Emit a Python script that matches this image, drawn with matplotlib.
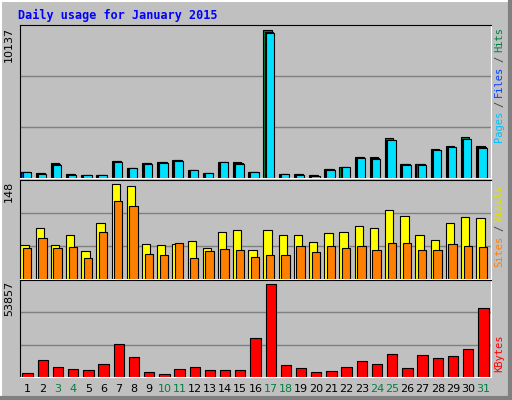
import matplotlib
matplotlib.use("Agg")
import matplotlib.pyplot as plt

days = list(range(1, 32))
weekend = [3, 4, 10, 11, 17, 18, 24, 25, 31]
hits = [437, 368, 1057, 299, 230, 230, 1196, 713, 1057, 1126, 1264, 575, 368, 1126, 1126, 437,
        10137, 299, 299, 230, 644, 782, 1471, 1471, 2712, 988, 988, 2023, 2230, 2782, 2230]
files = [420, 340, 990, 260, 220, 220, 1150, 680, 1010, 1080, 1220, 560, 360, 1110, 1000, 420,
         10000, 290, 270, 190, 600, 770, 1420, 1380, 2640, 930, 940, 1950, 2160, 2710, 2100]
pages = [400, 300, 900, 230, 220, 220, 1100, 660, 960, 1040, 1150, 560, 360, 1100, 950, 410,
         9950, 290, 230, 160, 570, 770, 1380, 1310, 2620, 900, 900, 1940, 2140, 2670, 2080]
visits = [53, 80, 53, 69, 43, 88, 148, 145, 55, 53, 55, 60, 48, 74, 76, 45,
          77, 68, 69, 58, 72, 74, 82, 79, 108, 98, 69, 61, 88, 97, 95]
sites = [48, 64, 48, 50, 32, 74, 122, 114, 39, 37, 56, 32, 43, 47, 45, 34,
         37, 37, 51, 42, 51, 48, 51, 45, 56, 56, 45, 45, 55, 51, 50]
kbytes = [2546, 9594, 6070, 4895, 4308, 7245, 18993, 11357, 3133, 1958, 4895, 6070, 4308, 4308,
          4308, 22517, 53857, 6657, 5482, 3133, 3720, 6070, 9007, 7245, 13119, 5482, 12532,
          10770, 11945, 16056, 40150]

W, H = 512, 400
fig = plt.figure(figsize=(W/100, H/100), dpi=100)
fig.patch.set_facecolor("#c0c0c0")
mono = "DejaVu Sans Mono"

fig.add_artist(plt.Line2D([0, 1], [1-0.5/H, 1-0.5/H], color="white", lw=1.5, transform=fig.transFigure))
fig.add_artist(plt.Line2D([0.5/W, 0.5/W], [0, 1], color="white", lw=1.5, transform=fig.transFigure))
fig.add_artist(plt.Line2D([0, 1], [2/H, 2/H], color="#808080", lw=3, transform=fig.transFigure))
fig.add_artist(plt.Line2D([1-2/W, 1-2/W], [0, 1], color="#808080", lw=3, transform=fig.transFigure))

fig.text(18/W, 1-15/H, "Daily usage for January 2015", color="#0000ff", fontsize=8.5,
         fontweight="bold", family=mono, va="center", ha="left")

x0, x1 = 20/W, 491/W
def mkax(top, bot):
    ax = fig.add_axes([x0, 1-bot/H, x1-x0, (bot-top)/H])
    ax.set_facecolor("#c0c0c0")
    ax.set_xlim(0.5, 31.5)
    for s in ax.spines.values():
        s.set_color("black")
    ax.spines["right"].set_color("white")
    ax.spines["bottom"].set_color("white")
    ax.set_xticks([]); ax.set_yticks([])
    for f in (1/3, 2/3):
        ax.plot([0, 1], [f, f], color="#808080", lw=1, transform=ax.transAxes, zorder=0)
    return ax

ax1 = mkax(25, 178)
ax2 = mkax(180, 279)
ax3 = mkax(280, 377)

ek = dict(edgecolor="black", linewidth=0.8)
ax1.bar([d-0.2 for d in days], hits, width=0.55, color="#008040", **ek)
ax1.bar([d-0.13 for d in days], files, width=0.55, color="#0040ff", **ek)
ax1.bar([d-0.06 for d in days], pages, width=0.55, color="#00e0ff", **ek)
ax1.set_ylim(0, max(hits)/0.965)

ax2.bar([d-0.2 for d in days], visits, width=0.55, color="#ffff00", **ek)
ax2.bar([d-0.03 for d in days], sites, width=0.55, color="#ff8000", **ek)
ax2.set_ylim(0, max(visits)/0.958)

ax3.bar(days, kbytes, width=0.68, color="#ff0000", **ek)
ax3.set_ylim(0, max(kbytes)/0.96)

for d in days:
    ax3.text(d, -0.12, str(d), transform=ax3.get_xaxis_transform(), ha="center", va="center",
             fontsize=8, family="DejaVu Sans", color="#008040" if d in weekend else "black")

for ax, val in ((ax1, hits), (ax2, visits), (ax3, kbytes)):
    ax.text(-0.013, 0.99, str(max(val)), transform=ax.transAxes, rotation=90, ha="right",
            va="top", fontsize=8, family="DejaVu Sans")

def side(pieces, ytop):
    y = ytop
    for txt, col in pieces:
        fig.text(499/W, 1-y/H, txt, rotation=90, color=col, fontsize=7.5, family=mono,
                 ha="center", va="top")
        y += len(txt)*6.2 + 4

side([("Hits", "#008040"), ("/", "#404040"), ("Files", "#0040ff"), ("/", "#404040"),
      ("Pages", "#00c0ff")], 27)
side([("Visits", "#e0e000"), ("/", "#404040"), ("Sites", "#ff8000")], 184)
side([("KBytes", "#ff0000")], 334)

fig.savefig("out.png", dpi=100, facecolor=fig.get_facecolor())
